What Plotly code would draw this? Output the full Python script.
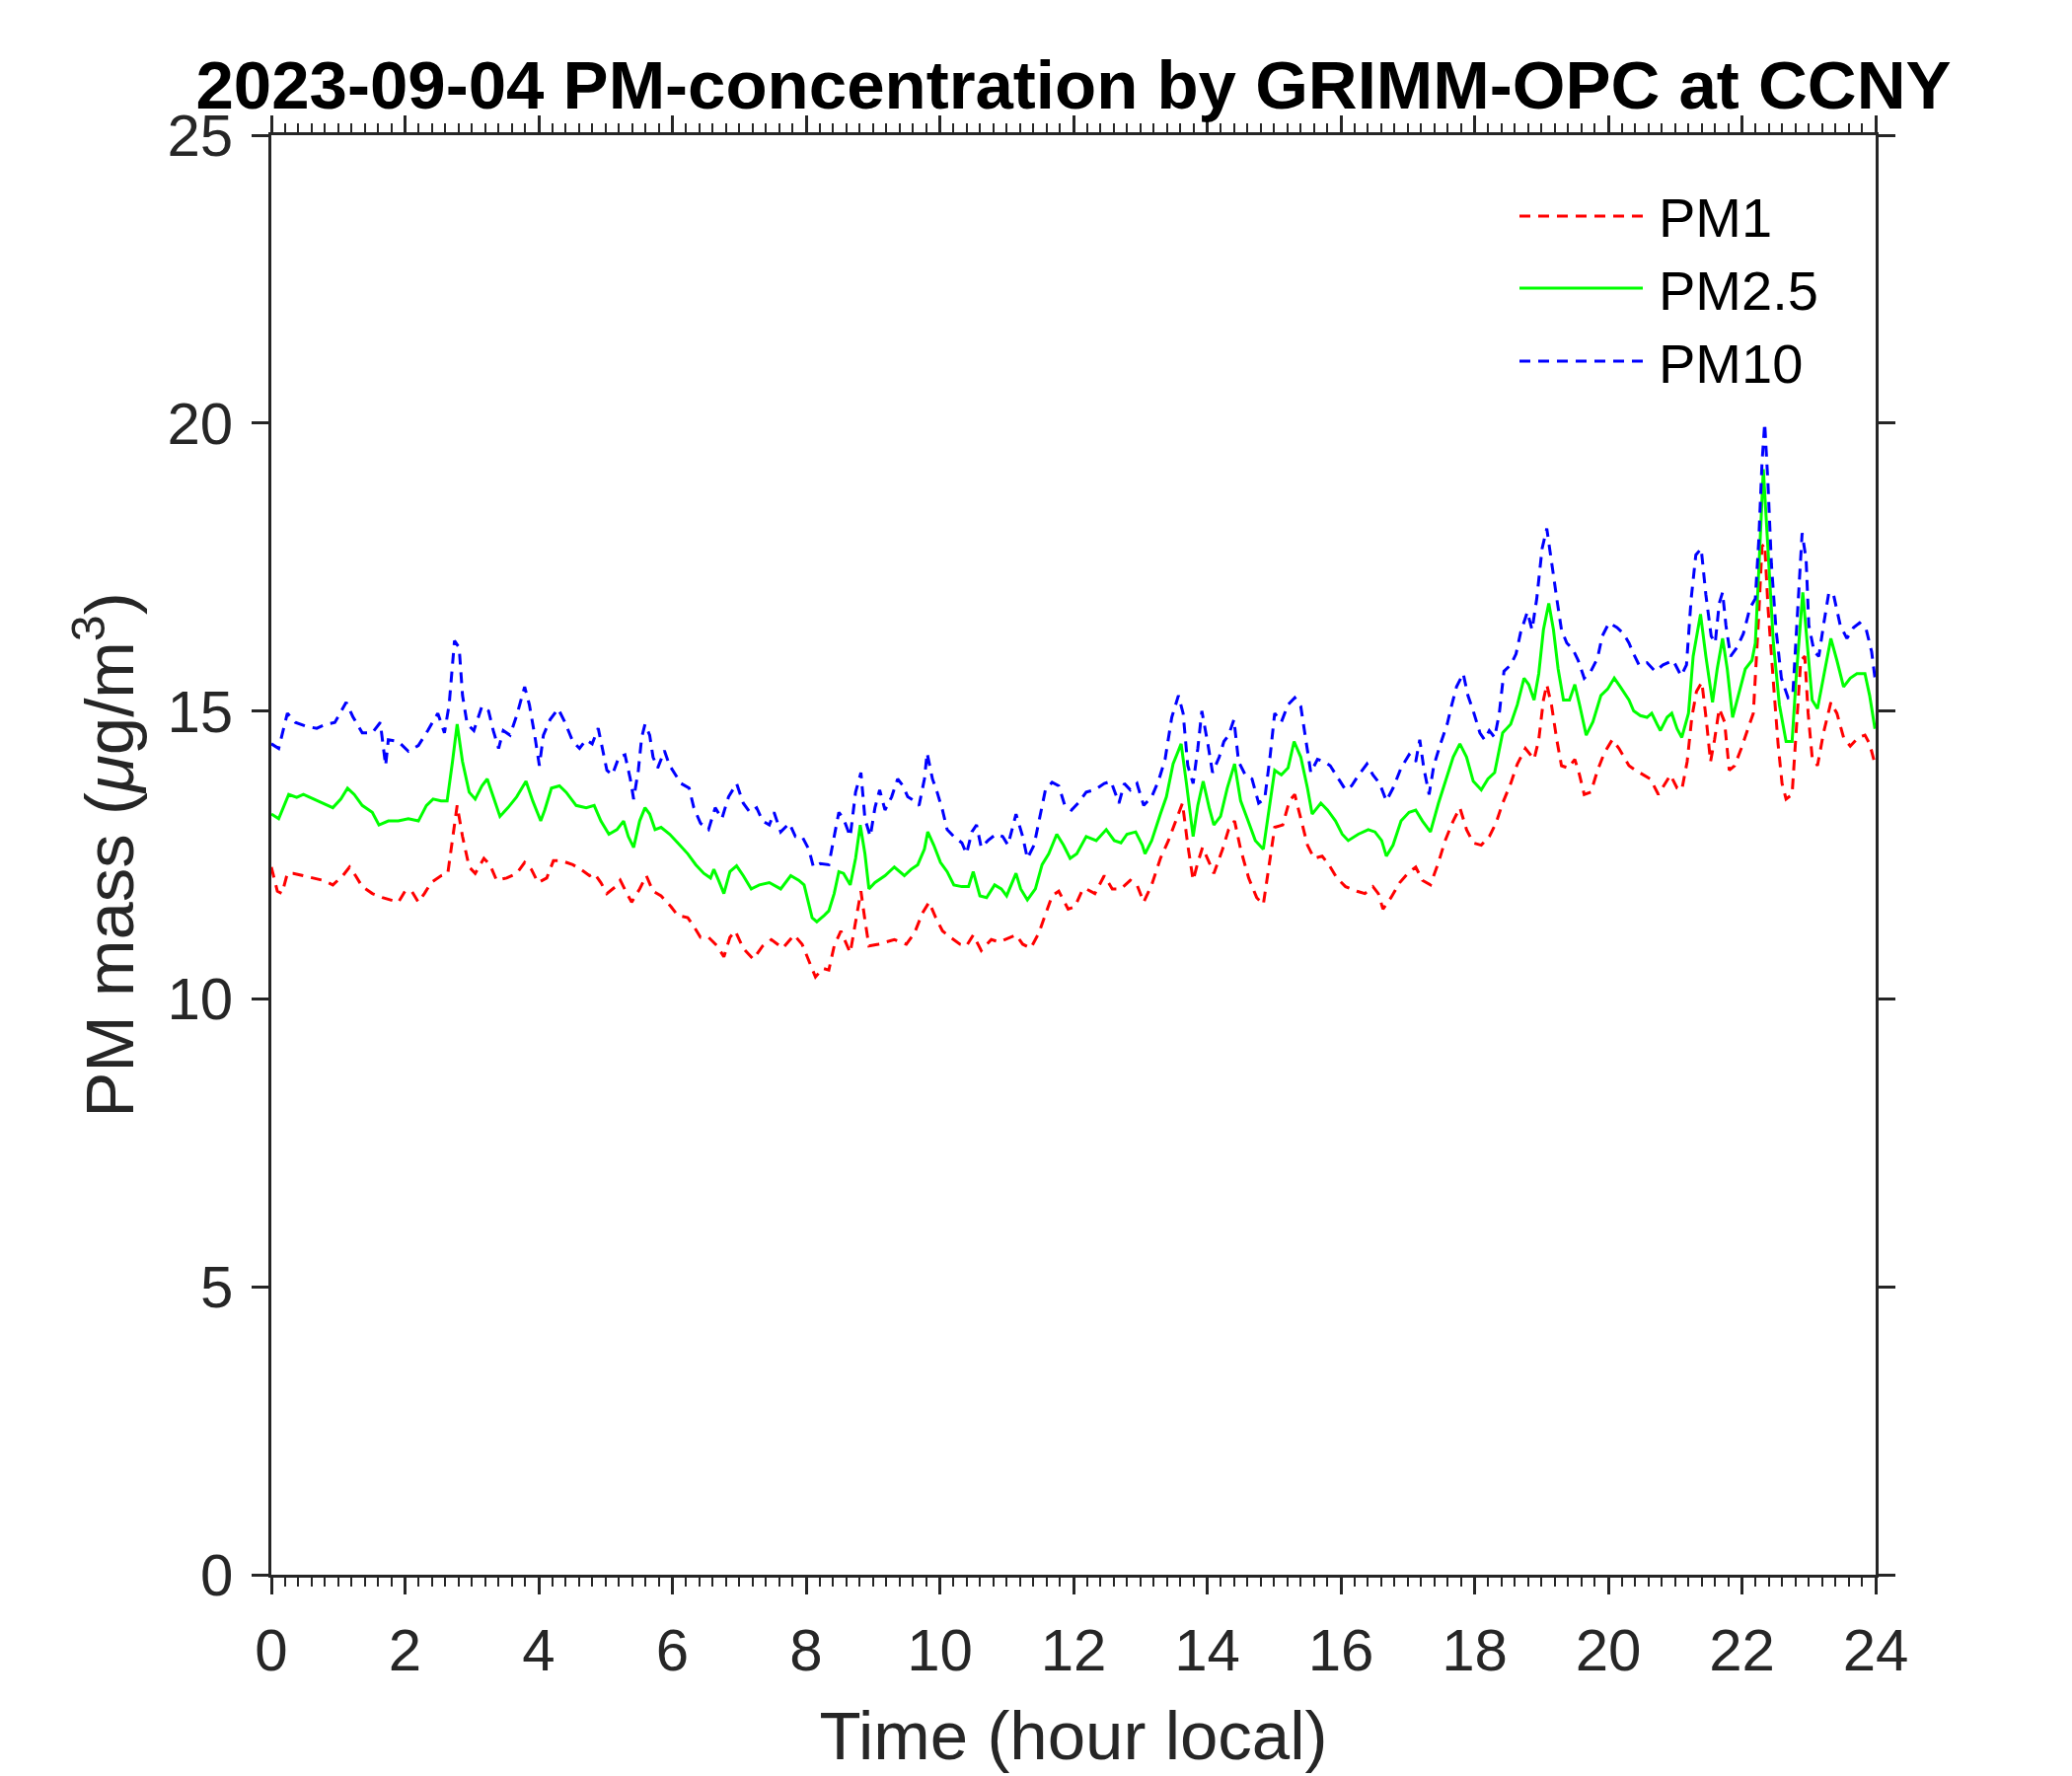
import plotly.graph_objects as go

# ---------------- data ----------------
hours_pm1 = [0, 0.09, 0.16, 0.24, 0.33, 0.48, 0.63, 0.77, 0.92, 1.07, 1.17, 1.26, 1.36, 1.51, 1.66, 1.8, 1.9, 2.0, 2.1, 2.2, 2.29, 2.39, 2.54, 2.64, 2.71, 2.78, 2.86, 2.96, 3.05, 3.18, 3.27, 3.37, 3.52, 3.67, 3.79, 3.89, 3.99,
             4.12, 4.22, 4.34, 4.51, 4.63, 4.76, 4.83, 4.93, 5.02, 5.15, 5.22, 5.32, 5.39, 5.51, 5.61, 5.71, 5.83, 5.98, 6.08, 6.23, 6.32, 6.42, 6.54, 6.67, 6.77, 6.86, 6.94, 7.06, 7.21, 7.35, 7.48, 7.65, 7.82, 7.94, 8.04, 8.14,
             8.25, 8.34, 8.42, 8.52, 8.66, 8.74, 8.82, 8.88, 8.94, 9.08, 9.2, 9.32, 9.5, 9.62, 9.74, 9.84, 9.94, 10.04, 10.16, 10.3, 10.4, 10.5, 10.62, 10.77, 10.89, 11.04, 11.14, 11.24, 11.36, 11.48, 11.58, 11.68, 11.78, 11.92, 12.02, 12.14,
             12.19, 12.32, 12.46, 12.58, 12.71, 12.85, 12.95, 13.05, 13.17, 13.3, 13.42, 13.54, 13.63, 13.71, 13.79, 13.86, 13.93, 14.03, 14.1, 14.23, 14.32, 14.41, 14.5, 14.62, 14.74, 14.84, 14.91, 15.01, 15.13, 15.23, 15.31, 15.4, 15.5, 15.6, 15.72, 15.82, 15.94, 16.07,
             16.24, 16.36, 16.48, 16.56, 16.63, 16.75, 16.88, 17.0, 17.12, 17.22, 17.34, 17.46, 17.56, 17.68, 17.78, 17.88, 17.98, 18.1, 18.22, 18.32, 18.42, 18.54, 18.64, 18.76, 18.89, 18.96, 19.03, 19.08, 19.15, 19.23, 19.3, 19.4, 19.5, 19.57, 19.64, 19.74, 19.84, 19.94, 20.06, 20.16,
             20.31, 20.41, 20.53, 20.63, 20.75, 20.83, 20.93, 21.03, 21.1, 21.18, 21.25, 21.32, 21.4, 21.47, 21.53, 21.59, 21.66, 21.74, 21.81, 21.89, 21.99, 22.08, 22.17, 22.25, 22.3, 22.34, 22.39, 22.47, 22.54, 22.6, 22.66, 22.75, 22.81, 22.88, 22.94, 22.99, 23.05, 23.13, 23.22, 23.33, 23.42, 23.52, 23.62, 23.74, 23.84, 23.91, 23.99]
pm1 = [12.29, 11.87, 11.83, 12.18, 12.18, 12.14, 12.1, 12.06, 11.98, 12.14, 12.29, 12.14, 11.95, 11.83, 11.76, 11.72, 11.68, 11.87, 11.87, 11.68, 11.83, 12.02, 12.14, 12.18, 12.82, 13.36, 12.82, 12.29, 12.18, 12.44, 12.33, 12.06, 12.1, 12.18, 12.37, 12.25, 12.02,
       12.1, 12.4, 12.4, 12.33, 12.25, 12.14, 12.18, 12.02, 11.83, 11.95, 12.06, 11.83, 11.68, 11.91, 12.14, 11.87, 11.79, 11.6, 11.45, 11.41, 11.26, 11.07, 11.07, 10.92, 10.73, 11.07, 11.18, 10.88, 10.69, 10.92, 11.03, 10.88, 11.11, 10.95, 10.65, 10.38,
       10.53, 10.5, 10.92, 11.18, 10.8, 11.37, 11.87, 11.37, 10.92, 10.95, 10.99, 11.03, 10.95, 11.14, 11.49, 11.68, 11.41, 11.18, 11.07, 10.95, 10.92, 11.11, 10.84, 11.03, 10.99, 11.07, 11.11, 10.95, 10.88, 11.14, 11.45, 11.79, 11.87, 11.56, 11.6, 11.91,
       11.91, 11.83, 12.14, 11.91, 11.91, 12.06, 11.98, 11.68, 11.98, 12.44, 12.75, 13.13, 13.4, 12.67, 12.06, 12.37, 12.63, 12.37, 12.18, 12.6, 12.94, 13.09, 12.6, 12.1, 11.76, 11.64, 12.21, 12.98, 13.02, 13.44, 13.55, 13.13, 12.67, 12.44, 12.48, 12.33, 12.1, 11.95,
       11.87, 11.83, 11.95, 11.83, 11.56, 11.76, 12.02, 12.18, 12.29, 12.06, 11.98, 12.37, 12.75, 13.09, 13.32, 12.94, 12.71, 12.67, 12.82, 13.05, 13.4, 13.74, 14.08, 14.35, 14.16, 14.5, 15.19, 15.46, 15.11, 14.5, 14.05, 14.01, 14.16, 13.89, 13.55, 13.59, 13.97, 14.27, 14.5, 14.35,
       14.05, 13.97, 13.89, 13.82, 13.55, 13.7, 13.89, 13.66, 13.63, 14.12, 14.89, 15.34, 15.5, 14.81, 14.12, 14.5, 15.04, 14.81, 13.97, 14.05, 14.35, 14.66, 14.96, 16.64, 17.86, 17.9, 16.79, 15.5, 14.43, 13.74, 13.47, 13.55, 14.66, 15.88, 15.95, 14.96, 14.2, 14.05, 14.62, 15.15, 14.96, 14.54, 14.39, 14.54, 14.58, 14.43, 14.08]

hours_pm25 = [0, 0.11, 0.26, 0.38, 0.48, 0.63, 0.77, 0.92, 1.04, 1.14, 1.24, 1.36, 1.51, 1.61, 1.75, 1.9, 2.05, 2.2, 2.32, 2.42, 2.54, 2.63, 2.71, 2.78, 2.86, 2.96, 3.05, 3.15, 3.23, 3.32, 3.42, 3.54, 3.67, 3.81, 3.91, 4.03,
              4.09, 4.19, 4.31, 4.41, 4.56, 4.71, 4.83, 4.93, 5.05, 5.17, 5.27, 5.34, 5.42, 5.51, 5.59, 5.66, 5.74, 5.83, 5.96, 6.08, 6.23, 6.35, 6.47, 6.57, 6.62, 6.69, 6.77, 6.86, 6.96, 7.06, 7.18, 7.3, 7.45, 7.62, 7.77, 7.89, 7.97, 8.09, 8.16,
              8.27, 8.34, 8.42, 8.49, 8.56, 8.66, 8.74, 8.81, 8.88, 8.94, 9.03, 9.18, 9.32, 9.47, 9.57, 9.67, 9.77, 9.82, 9.91, 10.01, 10.11, 10.21, 10.33, 10.43, 10.5, 10.6, 10.7, 10.82, 10.92, 11.0, 11.14, 11.21, 11.31, 11.43, 11.53, 11.63, 11.75, 11.85, 11.95, 12.05,
              12.19, 12.34, 12.49, 12.61, 12.71, 12.8, 12.93, 13.03, 13.07, 13.17, 13.3, 13.39, 13.49, 13.61, 13.69, 13.79, 13.86, 13.94, 14.03, 14.1, 14.2, 14.3, 14.41, 14.5, 14.6, 14.72, 14.84, 14.91, 15.01, 15.11, 15.21, 15.3, 15.4, 15.5, 15.57, 15.7, 15.8, 15.92, 16.02, 16.11,
              16.26, 16.41, 16.51, 16.61, 16.68, 16.78, 16.9, 17.02, 17.12, 17.22, 17.34, 17.46, 17.59, 17.68, 17.78, 17.88, 17.98, 18.1, 18.2, 18.3, 18.42, 18.54, 18.64, 18.74, 18.81, 18.89, 18.96, 19.03, 19.11, 19.18, 19.25, 19.33, 19.42, 19.5, 19.57, 19.67, 19.77, 19.89, 19.99, 20.09, 20.18,
              20.31, 20.38, 20.48, 20.58, 20.65, 20.73, 20.78, 20.88, 20.95, 21.03, 21.1, 21.2, 21.27, 21.38, 21.46, 21.56, 21.63, 21.71, 21.78, 21.86, 21.95, 22.05, 22.15, 22.2, 22.25, 22.32, 22.39, 22.47, 22.56, 22.66, 22.75, 22.81, 22.91, 22.98, 23.05, 23.13, 23.22, 23.33, 23.42, 23.52, 23.62, 23.72, 23.84, 23.91, 23.99]
pm25 = [13.21, 13.13, 13.55, 13.5, 13.55, 13.47, 13.4, 13.32, 13.47, 13.66, 13.55, 13.36, 13.24, 13.02, 13.09, 13.09, 13.13, 13.09, 13.36, 13.47, 13.44, 13.44, 14.12, 14.77, 14.12, 13.59, 13.47, 13.7, 13.82, 13.51, 13.17, 13.32, 13.51, 13.78, 13.44, 13.09,
        13.28, 13.66, 13.7, 13.59, 13.36, 13.32, 13.36, 13.09, 12.86, 12.94, 13.09, 12.82, 12.63, 13.09, 13.32, 13.21, 12.94, 12.98, 12.86, 12.71, 12.52, 12.33, 12.18, 12.1, 12.25, 12.06, 11.83, 12.21, 12.31, 12.14, 11.91, 11.98, 12.02, 11.91, 12.14, 12.06, 11.98, 11.41, 11.34,
        11.45, 11.53, 11.83, 12.21, 12.18, 11.98, 12.44, 13.02, 12.52, 11.91, 12.02, 12.14, 12.29, 12.14, 12.25, 12.33, 12.6, 12.9, 12.67, 12.37, 12.21, 11.98, 11.95, 11.95, 12.21, 11.79, 11.76, 11.98, 11.91, 11.79, 12.18, 11.91, 11.72, 11.91, 12.33, 12.52, 12.86, 12.67, 12.44, 12.52,
        12.82, 12.75, 12.94, 12.75, 12.71, 12.86, 12.9, 12.67, 12.52, 12.75, 13.21, 13.51, 14.08, 14.43, 13.74, 12.82, 13.36, 13.78, 13.32, 13.02, 13.17, 13.66, 14.08, 13.44, 13.13, 12.75, 12.6, 13.13, 13.97, 13.89, 14.01, 14.47, 14.2, 13.66, 13.21, 13.4, 13.28, 13.09, 12.86, 12.75,
        12.86, 12.94, 12.9, 12.75, 12.48, 12.67, 13.09, 13.24, 13.28, 13.09, 12.9, 13.4, 13.89, 14.2, 14.43, 14.2, 13.78, 13.63, 13.82, 13.93, 14.62, 14.77, 15.11, 15.57, 15.46, 15.19, 15.65, 16.41, 16.87, 16.41, 15.73, 15.19, 15.19, 15.46, 15.11, 14.58, 14.81, 15.27, 15.38, 15.57, 15.42,
        15.19, 15.0, 14.92, 14.89, 14.96, 14.77, 14.66, 14.89, 14.96, 14.69, 14.54, 14.96, 15.95, 16.68, 15.95, 15.15, 15.73, 16.26, 15.73, 14.89, 15.27, 15.73, 15.88, 16.18, 17.4, 19.2, 17.79, 16.18, 15.11, 14.47, 14.47, 15.57, 17.06, 16.18, 15.19, 15.04, 15.57, 16.26, 15.88, 15.42, 15.57, 15.65, 15.65, 15.27, 14.69]

hours_pm10 = [0, 0.11, 0.24, 0.36, 0.53, 0.68, 0.82, 0.95, 1.12, 1.22, 1.36, 1.51, 1.63, 1.71, 1.75, 1.9, 2.05, 2.2, 2.34, 2.49, 2.59, 2.66, 2.74, 2.81, 2.86, 2.93, 3.03, 3.15, 3.25, 3.32, 3.4, 3.47, 3.57, 3.67, 3.79, 3.86, 3.94, 4.01,
              4.07, 4.17, 4.29, 4.39, 4.51, 4.61, 4.71, 4.8, 4.89, 4.95, 5.02, 5.1, 5.2, 5.29, 5.37, 5.42, 5.49, 5.54, 5.59, 5.66, 5.71, 5.78, 5.88, 5.96, 6.03, 6.13, 6.25, 6.32, 6.42, 6.54, 6.64, 6.74, 6.84, 6.96, 7.06, 7.16, 7.26, 7.35, 7.45, 7.52, 7.62, 7.75, 7.84, 7.94, 8.04, 8.11, 8.21,
              8.34, 8.42, 8.49, 8.56, 8.66, 8.74, 8.82, 8.88, 8.96, 9.03, 9.1, 9.18, 9.28, 9.37, 9.45, 9.52, 9.62, 9.69, 9.77, 9.81, 9.89, 9.96, 10.04, 10.11, 10.21, 10.33, 10.4, 10.48, 10.55, 10.62, 10.72, 10.84, 10.94, 11.02, 11.14, 11.24, 11.31, 11.41, 11.48, 11.58, 11.68, 11.78, 11.87, 11.97, 12.07,
              12.19, 12.32, 12.46, 12.56, 12.68, 12.76, 12.85, 12.95, 13.05, 13.17, 13.27, 13.37, 13.47, 13.57, 13.64, 13.71, 13.79, 13.86, 13.92, 14.01, 14.08, 14.18, 14.25, 14.32, 14.4, 14.47, 14.57, 14.67, 14.77, 14.86, 14.94, 15.01, 15.11, 15.21, 15.31, 15.4, 15.48, 15.55, 15.65, 15.75, 15.84, 15.97, 16.07,
              16.16, 16.26, 16.39, 16.48, 16.58, 16.68, 16.78, 16.9, 17.02, 17.12, 17.18, 17.24, 17.32, 17.39, 17.49, 17.59, 17.66, 17.73, 17.83, 17.9, 17.98, 18.08, 18.15, 18.22, 18.3, 18.37, 18.44, 18.54, 18.62, 18.69, 18.79, 18.86, 18.93, 19.01, 19.08, 19.15, 19.23, 19.3, 19.38, 19.47, 19.55, 19.64, 19.74, 19.84, 19.91, 20.01, 20.13, 20.23,
              20.31, 20.38, 20.46, 20.58, 20.7, 20.82, 20.97, 21.09, 21.17, 21.24, 21.31, 21.39, 21.46, 21.54, 21.6, 21.66, 21.71, 21.76, 21.83, 21.93, 22.02, 22.12, 22.2, 22.25, 22.3, 22.34, 22.39, 22.44, 22.51, 22.59, 22.69, 22.76, 22.83, 22.9, 22.96, 23.0, 23.08, 23.15, 23.22, 23.3, 23.37, 23.47, 23.57, 23.67, 23.76, 23.86, 23.94, 23.99]
pm10 = [14.43, 14.35, 14.96, 14.8, 14.73, 14.7, 14.77, 14.8, 15.15, 14.9, 14.62, 14.62, 14.8, 14.05, 14.5, 14.47, 14.3, 14.4, 14.66, 14.96, 14.62, 15.11, 16.22, 16.1, 15.27, 14.77, 14.66, 15.08, 15.0, 14.66, 14.35, 14.66, 14.58, 14.92, 15.42, 15.11, 14.58, 14.05,
        14.58, 14.85, 15.04, 14.81, 14.47, 14.35, 14.5, 14.43, 14.7, 14.35, 13.97, 13.89, 14.2, 14.24, 13.82, 13.47, 13.97, 14.54, 14.77, 14.58, 14.2, 14.01, 14.31, 14.05, 13.93, 13.74, 13.66, 13.32, 13.05, 12.94, 13.32, 13.13, 13.51, 13.74, 13.4, 13.24, 13.32, 13.09, 13.02, 13.24, 12.9, 13.05, 12.82, 12.82, 12.6, 12.29, 12.35,
        12.33, 12.82, 13.24, 13.13, 12.82, 13.59, 13.93, 13.13, 12.82, 13.32, 13.63, 13.28, 13.51, 13.82, 13.7, 13.51, 13.44, 13.36, 13.82, 14.27, 13.82, 13.59, 13.28, 12.94, 12.82, 12.71, 12.52, 12.9, 13.02, 12.63, 12.75, 12.86, 12.82, 12.67, 13.21, 12.82, 12.44, 12.67, 13.05, 13.63, 13.76, 13.7, 13.36, 13.28, 13.4,
        13.59, 13.63, 13.74, 13.78, 13.4, 13.74, 13.63, 13.74, 13.36, 13.51, 13.78, 14.16, 14.89, 15.27, 14.96, 14.05, 13.74, 14.35, 15.0, 14.43, 13.93, 14.2, 14.47, 14.58, 14.85, 14.12, 13.89, 13.82, 13.4, 13.47, 14.2, 14.96, 14.81, 15.11, 15.23, 15.08, 14.5, 13.93, 14.16, 14.12, 14.05, 13.82, 13.63,
        13.7, 13.88, 14.08, 13.89, 13.74, 13.44, 13.66, 14.01, 14.24, 14.12, 14.5, 14.01, 13.55, 14.05, 14.43, 14.77, 15.11, 15.42, 15.65, 15.27, 15.0, 14.62, 14.5, 14.66, 14.54, 14.96, 15.69, 15.8, 15.99, 16.37, 16.72, 16.41, 16.95, 17.82, 18.17, 17.56, 16.95, 16.41, 16.18, 16.07, 15.88, 15.57, 15.69, 15.92, 16.3, 16.53, 16.45, 16.34,
        16.18, 15.99, 15.8, 15.84, 15.69, 15.8, 15.88, 15.61, 15.8, 16.95, 17.71, 17.82, 17.02, 16.3, 16.18, 16.87, 17.06, 16.49, 15.95, 16.11, 16.34, 16.79, 16.95, 17.94, 19.31, 20.0, 18.93, 17.56, 16.41, 15.57, 15.23, 15.27, 16.72, 18.09, 17.63, 16.49, 16.03, 15.95, 16.49, 17.06, 17.02, 16.49, 16.26, 16.45, 16.53, 16.41, 16.03, 15.57]

series_names = ["PM1", "PM2.5", "PM10"]
series_colors = ["#FF0000", "#00FF00", "#0000FF"]
series_dash = ["11px,8px", "solid", "11px,8px"]

x_ticks = list(range(0, 25, 2))
y_ticks = list(range(0, 26, 5))

title_text = "2023-09-04 PM-concentration by GRIMM-OPC at CCNY"
x_label = "Time (hour local)"
y_label = "PM mass (<i>\u03bc</i>g/m<sup>3</sup>)"

# ---------------- figure ----------------
W, H = 2100, 1800
L, R, T, B = 267, 1893, 129, 1588
FONT = "Liberation Sans, Arial, Helvetica, sans-serif"
AX = "#262626"

fig = go.Figure()
xs = [hours_pm1, hours_pm25, hours_pm10]
ys = [pm1, pm25, pm10]
for xv, yv, nm, col, ds in zip(xs, ys, series_names, series_colors, series_dash):
    fig.add_trace(go.Scatter(x=xv, y=yv, mode="lines", name=nm,
                             line=dict(color=col, width=3, dash=ds),
                             showlegend=False))

# MATLAB-like legend without a box, placed in pixel positions of the figure
def px_x(p):
    return (p - L) / (R - L)

def px_y(p):
    return (B - p) / (B - T)

legend_rows = [213, 286, 360]
for nm, col, ds, yy in zip(series_names, series_colors, series_dash, legend_rows):
    fig.add_shape(type="line", xref="paper", yref="paper",
                  x0=px_x(1532), x1=px_x(1657), y0=px_y(yy - 2), y1=px_y(yy - 2),
                  line=dict(color=col, width=3, dash=ds))
    fig.add_annotation(text=nm, xref="paper", yref="paper",
                       x=px_x(1671), y=px_y(yy), xanchor="left", yanchor="middle",
                       showarrow=False, font=dict(family=FONT, size=56, color="#000000"))

axis_common = dict(
    showline=True, linecolor=AX, linewidth=2.5, mirror="allticks",
    ticks="outside", tickcolor=AX, tickwidth=2.5, ticklen=17,
    showgrid=False, zeroline=False,
    tickfont=dict(family=FONT, size=60, color=AX),
)

fig.update_layout(
    width=W, height=H,
    margin=dict(l=L, r=W - R, t=T, b=H - B),
    paper_bgcolor="white", plot_bgcolor="white",
    font=dict(family=FONT, color=AX),
    title=dict(text="<b>" + title_text + "</b>", x=0.5, xref="paper", xanchor="center",
               y=1 - 78 / H, yref="container", yanchor="middle",
               font=dict(family=FONT, size=69, color="#000000")),
    xaxis=dict(range=[0, 24], tickmode="array", tickvals=x_ticks,
               ticktext=[str(v) for v in x_ticks], ticklabelstandoff=5,
               minor=dict(dtick=0.2, tick0=0, ticks="outside", ticklen=9, tickwidth=2,
                          tickcolor=AX, showgrid=False),
               title=dict(text=x_label, font=dict(family=FONT, size=69, color=AX), standoff=30),
               **axis_common),
    yaxis=dict(range=[0, 25], tickmode="array", tickvals=y_ticks,
               ticktext=[str(v) for v in y_ticks], ticklabelstandoff=7,
               title=dict(text=y_label, font=dict(family=FONT, size=69, color=AX), standoff=12),
               **axis_common),
)

fig.write_html("out.html")
